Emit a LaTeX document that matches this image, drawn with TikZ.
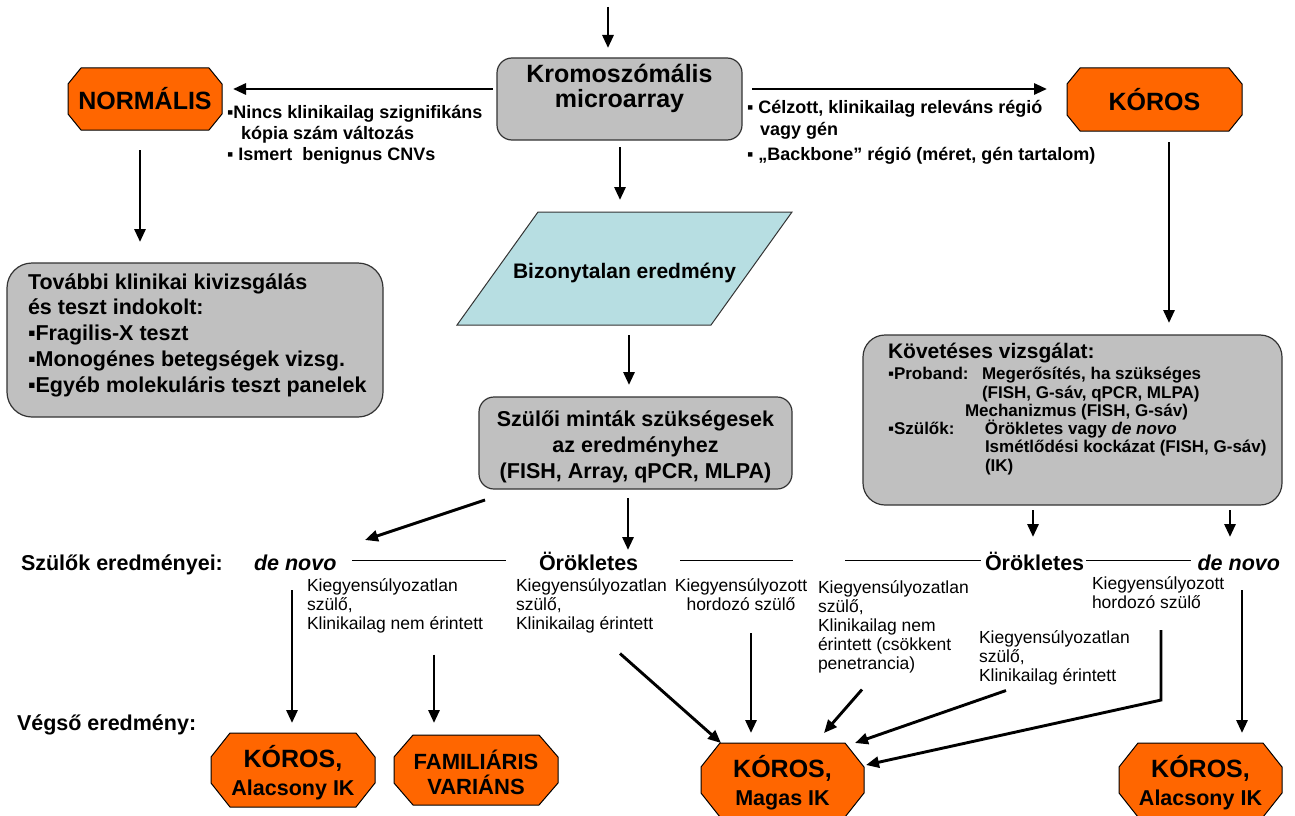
\documentclass[tikz,border=0pt]{standalone}
\usepackage{fontspec}
\setmainfont{Liberation Sans}
\usetikzlibrary{arrows.meta,calc,backgrounds}
\definecolor{octfill}{HTML}{FF6600}
\definecolor{boxfill}{HTML}{C0C0C0}
\definecolor{parafill}{HTML}{B7DEE2}
\newcommand\fsz[2]{\fontsize{#1}{#2}\selectfont}
\newcommand\sqb{▪}
% orange octagon drawn round a node: #1 node, #2 horizontal cut, #3 vertical cut
\newcommand\octframe[3]{%
  \filldraw[fill=octfill,draw=black,line width=1pt]
    ($(#1.north west)+(#2,0)$) -- ($(#1.north east)+(-#2,0)$) --
    ($(#1.north east)+(0,#3)$) -- ($(#1.south east)+(0,-#3)$) --
    ($(#1.south east)+(-#2,0)$) -- ($(#1.south west)+(#2,0)$) --
    ($(#1.south west)+(0,-#3)$) -- ($(#1.north west)+(0,#3)$) -- cycle;}
\begin{document}
\begin{tikzpicture}[x=1pt,y=-1pt,
  every node/.style={inner sep=0pt,outer sep=0pt},
  arr/.style={line width=2.9pt,-{Triangle[length=13pt,width=11pt]}},
  rowline/.style={line width=1.2pt},
  box/.style={draw=black!80,line width=1.2pt,fill=boxfill,rounded corners=#1},
  box/.default=15pt,
  oct/.style={align=center,font=\bfseries\fsz{25}{28}},
  bold/.style={font=\bfseries\fsz{#1}{#1}},
  bolditalic/.style={font=\bfseries\itshape\fsz{#1}{#1}},
  lab/.style={align=left,font=\fsz{17.5}{19}},
]
\useasboundingbox (0,0) rectangle (1295,816);

% ---------- upper part ----------
\node[box, minimum width=245pt, minimum height=82pt] (cma) at (619.5,99) {};
\node[font=\bfseries\fsz{25}{25}, align=center] (cmaT) at (619.5,88.5) {Kromoszómális\\microarray};

\node[oct, minimum width=154pt, minimum height=62pt] (norm) at (145,99) {NORMÁLIS};
\node[oct, minimum width=175pt, minimum height=63pt] (kor) at (1154.5,99.5) {KÓROS};

\node[font=\bfseries\fsz{18}{21}, align=left, anchor=north west] (ntx) at (227,105.5)
  {\sqb Nincs klinikailag szignifikáns\\\hspace*{14pt}kópia szám változás\\\sqb\ Ismert\ \ benignus CNVs};
\node[font=\bfseries\fsz{18}{22}, align=left, anchor=north west] (ctx) at (747,100)
  {\sqb\ Célzott, klinikailag releváns régió\\\hspace*{13pt}vagy gén\\[3pt]\sqb\ „Backbone” régió (méret, gén tartalom)};

\node[box=25pt, minimum width=376pt, minimum height=154pt] (fur) at (195,340) {};
\node[font=\bfseries\fsz{21.5}{25.7}, align=left, anchor=north west] (furT) at (28,273.5)
  {További klinikai kivizsgálás\\és teszt indokolt:\\\sqb Fragilis-X teszt\\\sqb Monogénes betegségek vizsg.\\\sqb Egyéb molekuláris teszt panelek};

\node[minimum width=335pt, minimum height=113pt] (biz) at (624.5,268.5) {};
\node[bold=21] (bizT) at (624.5,272.5) {Bizonytalan eredmény};

\node[box, minimum width=313pt, minimum height=92pt] (szu) at (635.5,443) {};
\node[align=center, font=\bfseries\fsz{21.5}{26}] (szuT) at (635.5,446.5)
  {Szülői minták szükségesek\\az eredményhez\\(FISH, Array, qPCR, MLPA)};

\node[box=22pt, minimum width=419pt, minimum height=170pt] (fol) at (1072.5,420) {};
\node[font=\bfseries\fsz{17}{18.3}, align=left, anchor=north west] (folT) at (888,343)
  {{\fsz{21}{21}Követéses vizsgálat:}\\[3pt]
   \makebox[94pt][l]{\sqb Proband:}Megerősítés, ha szükséges\\
   \hspace*{94pt}(FISH, G-sáv, qPCR, MLPA)\\
   \hspace*{77pt}Mechanizmus (FISH, G-sáv)\\
   \makebox[97pt][l]{\sqb Szülők:}Örökletes vagy \textit{de novo}\\
   \hspace*{97pt}Ismétlődési kockázat (FISH, G-sáv)\\
   \hspace*{97pt}(IK)};

% ---------- parents' results row ----------
\node[bold=21.5, anchor=base west] (sze) at (21,570.5) {Szülők eredményei:};
\node[bolditalic=21.5, anchor=base west] (dnL) at (254,570.5) {de novo};
\node[bold=21.5, anchor=base west] (orL) at (539,570.5) {Örökletes};
\node[bold=21.5, anchor=base west] (orR) at (985,570.5) {Örökletes};
\node[bolditalic=21.5, anchor=base east] (dnR) at (1280,570.5) {de novo};

\draw[rowline] ($(dnL.base east)+(16,-10)$) -- ($(orL.base west)+(-33,-10)$);
\draw[rowline] ($(orL.base west)+(141,-10)$) -- ($(orL.base west)+(254,-10)$);
\draw[rowline] ($(orR.base west)+(-140,-10)$) -- ($(orR.base west)+(-4,-10)$);
\draw[rowline] ($(orR.base east)+(2,-10)$) -- ($(dnR.base west)+(-7,-10)$);

\node[lab, anchor=north west] (t1) at (307,579) {Kiegyensúlyozatlan\\szülő,\\Klinikailag nem érintett};
\node[lab, anchor=north west] (t2) at (516,579) {Kiegyensúlyozatlan\\szülő,\\Klinikailag érintett};
\node[lab, align=center, anchor=north] (t3) at (741,579) {Kiegyensúlyozott\\hordozó szülő};
\node[lab, anchor=north west] (t4) at (818,581) {Kiegyensúlyozatlan\\szülő,\\Klinikailag nem\\érintett (csökkent\\penetrancia)};
\node[lab, anchor=north west] (t5) at (1092,577) {Kiegyensúlyozott\\hordozó szülő};
\node[lab, anchor=north west] (t6) at (979,631) {Kiegyensúlyozatlan\\szülő,\\Klinikailag érintett};

% ---------- final results ----------
\node[bold=21.5, anchor=base west] (veg) at (17,730.7) {Végső eredmény:};
\node[minimum width=164pt, minimum height=74pt] (kA) at (293,770) {};
\node[oct] (kAT) at (293,773) {KÓROS,\\{\fsz{21.5}{24}Alacsony IK}};
\node[minimum width=164pt, minimum height=70pt] (fam) at (476,770) {};
\node[oct, font=\bfseries\fsz{22}{25}] (famT) at (476,772) {FAMILIÁRIS\\VARIÁNS};
\node[minimum width=163pt, minimum height=74pt] (mag) at (782.5,780) {};
\node[oct] (magT) at (782.5,783) {KÓROS,\\{\fsz{21.5}{24}Magas IK}};
\node[minimum width=163pt, minimum height=74pt] (kR) at (1200.5,780) {};
\node[oct] (kRT) at (1200.5,783) {KÓROS,\\{\fsz{21.5}{24}Alacsony IK}};

% ---------- connectors ----------
\coordinate (src) at (608,7);
\draw[arr] (src) -- ($(src |- cma.north)+(0,-10)$);
\draw[arr] ($(cma.west)+(-4,-10)$) -- ($(norm.east)+(11,-10)$);
\draw[arr] ($(cma.east)+(10,-10)$) -- ($(kor.west)+(-20,-10.5)$);
\coordinate (n1) at ($(norm.south)+(-5,20)$);
\draw[arr] (n1) -- ($(n1 |- fur.north)+(0,-21)$);
\draw[arr] ($(cma.south)+(0.5,7)$) -- ($(cma.south |- biz.north)+(0.5,-12)$);
\coordinate (b1) at ($(biz.south)+(4.5,10)$);
\draw[arr] (b1) -- ($(b1 |- szu.north)+(0,-12)$);
\coordinate (k1) at ($(kor.south)+(14.5,11)$);
\draw[arr] (k1) -- ($(k1 |- fol.north)+(0,-12)$);

\coordinate (s1) at ($(szu.south)+(-7.5,9)$);
\draw[arr] (s1) -- ($(s1 |- orL.base)+(0,-20.5)$);
\draw[arr] ($(szu.south west)+(6,11)$) -- ($(dnL.base west)+(111,-30.5)$);
\coordinate (f1) at ($(fol.south)+(-39.5,5)$);
\draw[arr] (f1) -- ($(f1 |- orR.base)+(0,-33.5)$);
\coordinate (f2) at ($(fol.south)+(157.5,5)$);
\draw[arr] (f2) -- ($(f2 |- dnR.base)+(0,-33.5)$);

\coordinate (v1) at ($(dnL.base west)+(38,19.5)$);
\draw[arr] (v1) -- ($(v1 |- kA.north)+(0,-10)$);
\coordinate (v2) at ($(t1.south west)+(127,21)$);
\draw[arr] (v2) -- ($(v2 |- fam.north)+(0,-12)$);
\draw[arr] ($(t2.south west)+(104,20)$) -- ($(mag.north west)+(20,0)$);
\coordinate (v4) at ($(t3.south)+(10,22)$);
\draw[arr] (v4) -- ($(v4 |- mag.north)+(0,-10)$);
\draw[arr] ($(t4.south west)+(44,16)$) -- ($(mag.north)+(41.5,-10)$);
\draw[arr] ($(t6.south west)+(27,5)$) -- ($(mag.north east)+(-9,0)$);
\coordinate (v7) at ($(t5.south west)+(69,21)$);
\draw[arr] (v7) -- ($(v7)+(0,70)$) -- ($(mag.north east)+(2,22)$);
\coordinate (v8) at ($(dnR.base east)+(-38,19.5)$);
\draw[arr] (v8) -- ($(v8 |- kR.north)+(0,-10)$);

% ---------- shapes behind the texts ----------
\begin{pgfonlayer}{background}
  \octframe{norm}{13}{16}
  \octframe{kor}{13}{16}
  \octframe{kA}{19}{24}
  \octframe{fam}{19}{22}
  \octframe{mag}{19}{24}
  \octframe{kR}{19}{24}
  \filldraw[fill=parafill,draw=black!80,line width=1pt]
    ($(biz.north west)+(81,0)$) -- (biz.north east) --
    ($(biz.south east)+(-81,0)$) -- (biz.south west) -- cycle;
\end{pgfonlayer}
\end{tikzpicture}
\end{document}
